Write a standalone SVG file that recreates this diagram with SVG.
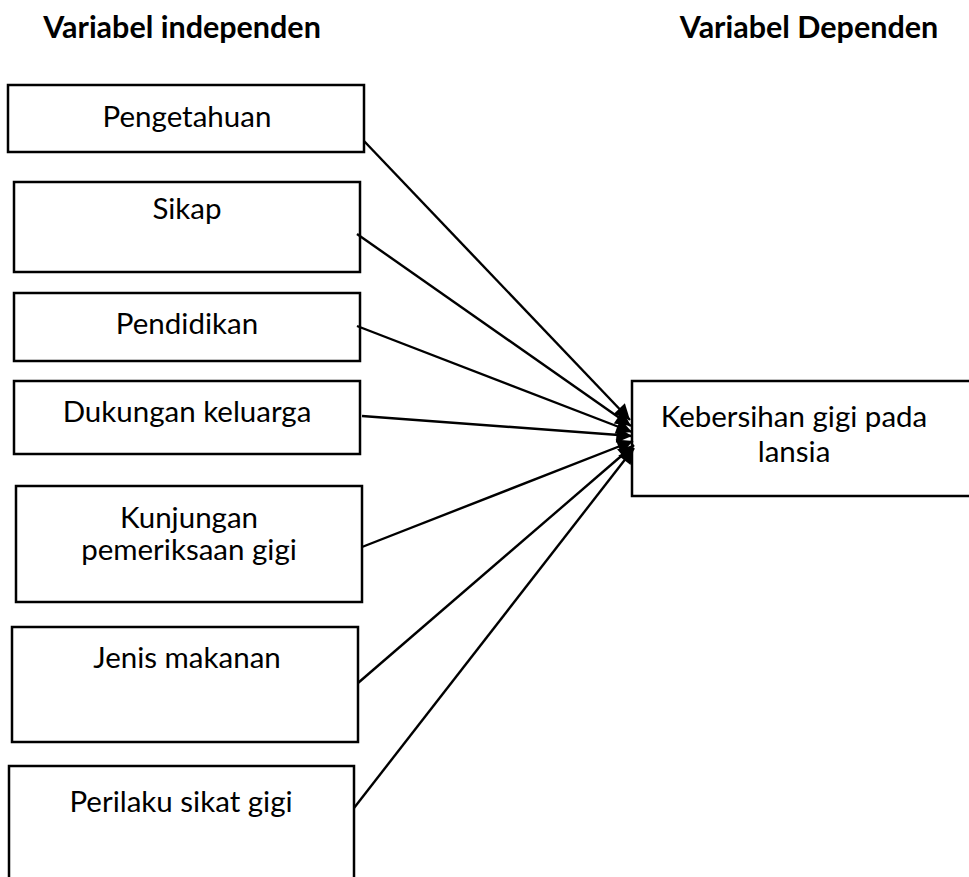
<svg xmlns="http://www.w3.org/2000/svg" width="969" height="877" viewBox="0 0 969 877">
<style>
.box{fill:#fff;stroke:#000;stroke-width:2.5}
.t{font-family:Lato,"Liberation Sans",sans-serif;font-size:29.5px;fill:#000;text-anchor:middle}
.h{font-family:Lato,"Liberation Sans",sans-serif;font-size:30.5px;font-weight:bold;fill:#000;text-anchor:middle}
.c{stroke:#000;stroke-width:2.4;fill:none;marker-end:url(#ah)}
</style>
<defs>
<marker id="ah" viewBox="0 0 10 10" refX="10" refY="5" markerWidth="7.5" markerHeight="6.5" markerUnits="strokeWidth" orient="auto">
<path d="M0,0 L10,5 L0,10 z" fill="#000"/>
</marker>
</defs>
<rect width="969" height="877" fill="#fff"/>
<text class="h" x="182" y="38">Variabel independen</text>
<text class="h" x="809" y="38">Variabel Dependen</text>
<g id="n1"><rect class="box" x="8" y="85" width="356" height="67"/><text class="t" x="187" y="127">Pengetahuan</text></g>
<g id="n2"><rect class="box" x="14" y="182" width="346" height="90"/><text class="t" x="187" y="219">Sikap</text></g>
<g id="n3"><rect class="box" x="14" y="293" width="346" height="68"/><text class="t" x="187" y="334">Pendidikan</text></g>
<g id="n4"><rect class="box" x="14" y="381" width="346" height="73"/><text class="t" x="187" y="422">Dukungan keluarga</text></g>
<g id="n5"><rect class="box" x="16" y="486" width="346" height="116"/><text class="t" x="189" y="528">Kunjungan</text><text class="t" x="189" y="560">pemeriksaan gigi</text></g>
<g id="n6"><rect class="box" x="12" y="627" width="346" height="115"/><text class="t" x="187" y="668">Jenis makanan</text></g>
<g id="n7"><rect class="box" x="9" y="766" width="345" height="120"/><text class="t" x="181" y="812">Perilaku sikat gigi</text></g>
<g id="n8"><rect class="box" x="632" y="381" width="350" height="115"/><text class="t" x="794" y="427">Kebersihan gigi pada</text><text class="t" x="794" y="462">lansia</text></g>
<g id="connectors">
<line class="c" x1="364" y1="141" x2="630" y2="420"/>
<line class="c" x1="357" y1="234" x2="631" y2="426"/>
<line class="c" x1="357" y1="326" x2="632" y2="432"/>
<line class="c" x1="362" y1="416" x2="632" y2="436"/>
<line class="c" x1="362" y1="547" x2="633" y2="441"/>
<line class="c" x1="358" y1="683" x2="634" y2="445"/>
<line class="c" x1="354" y1="808" x2="634" y2="448"/>
</g>
</svg>
